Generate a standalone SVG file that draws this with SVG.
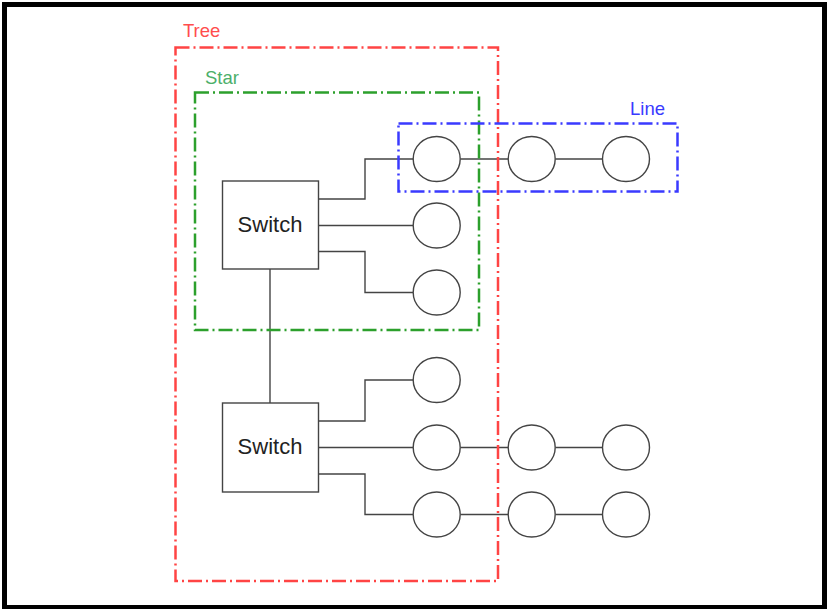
<svg xmlns="http://www.w3.org/2000/svg" width="829" height="609" viewBox="0 0 829 609">
<style>
.frame{fill:none;stroke:#000;stroke-width:5}
.wire{fill:none;stroke:#444;stroke-width:1.4}
.node{fill:#fff;stroke:#444;stroke-width:1.4}
.sw{fill:#fff;stroke:#444;stroke-width:1.4}
.swt{font-family:"Liberation Sans",Arial,sans-serif;font-size:22px;fill:#222;text-anchor:middle}
.grp{fill:none;stroke-width:2.5;stroke-dasharray:14 4 2 4}
.lbl{font-family:"Liberation Sans",Arial,sans-serif;font-size:18.5px}
</style>
<rect x="0" y="0" width="829" height="609" fill="#fff"/>
<rect class="frame" x="4.5" y="4.5" width="820" height="603"/>
<g id="connectors">
<polyline class="wire" points="318,199 365,199 365,159 413,159"/>
<line class="wire" x1="318" y1="225.5" x2="413" y2="225.5"/>
<polyline class="wire" points="318,251.5 365,251.5 365,292.5 413,292.5"/>
<line class="wire" x1="460.5" y1="159" x2="508" y2="159"/>
<line class="wire" x1="555.5" y1="159" x2="602" y2="159"/>
<line class="wire" x1="270" y1="269" x2="270" y2="403"/>
<polyline class="wire" points="318,421 365,421 365,380 413,380"/>
<line class="wire" x1="318" y1="447.5" x2="413" y2="447.5"/>
<polyline class="wire" points="318,474 365,474 365,514.5 413,514.5"/>
<line class="wire" x1="460.5" y1="447.5" x2="508" y2="447.5"/>
<line class="wire" x1="555.5" y1="447.5" x2="602" y2="447.5"/>
<line class="wire" x1="460.5" y1="514.5" x2="508" y2="514.5"/>
<line class="wire" x1="555.5" y1="514.5" x2="602" y2="514.5"/>
</g>
<g id="switch1"><rect class="sw" x="222.5" y="181" width="96" height="88"/><text class="swt" x="270" y="232">Switch</text></g>
<g id="switch2"><rect class="sw" x="222.5" y="403" width="96" height="89"/><text class="swt" x="270" y="454">Switch</text></g>
<g id="n1"><ellipse class="node" cx="436.7" cy="159" rx="23.5" ry="22.5"/></g>
<g id="n2"><ellipse class="node" cx="531.7" cy="159" rx="23.5" ry="22.5"/></g>
<g id="n3"><ellipse class="node" cx="626" cy="159" rx="23.5" ry="22.5"/></g>
<g id="n4"><ellipse class="node" cx="436.7" cy="225.5" rx="23.5" ry="22.5"/></g>
<g id="n5"><ellipse class="node" cx="436.7" cy="292.5" rx="23.5" ry="22.5"/></g>
<g id="n6"><ellipse class="node" cx="436.7" cy="380" rx="23.5" ry="22.5"/></g>
<g id="n7"><ellipse class="node" cx="436.7" cy="447.5" rx="23.5" ry="22.5"/></g>
<g id="n8"><ellipse class="node" cx="531.7" cy="447.5" rx="23.5" ry="22.5"/></g>
<g id="n9"><ellipse class="node" cx="626" cy="447.5" rx="23.5" ry="22.5"/></g>
<g id="n10"><ellipse class="node" cx="436.7" cy="514.5" rx="23.5" ry="22.5"/></g>
<g id="n11"><ellipse class="node" cx="531.7" cy="514.5" rx="23.5" ry="22.5"/></g>
<g id="n12"><ellipse class="node" cx="626" cy="514.5" rx="23.5" ry="22.5"/></g>
<g id="tree"><rect class="grp" x="175.5" y="47.5" width="322.5" height="533.5" stroke="#ff4444"/><text class="lbl" x="183" y="37" fill="#ff4d4d">Tree</text></g>
<g id="star"><rect class="grp" x="195" y="92.5" width="284" height="237.5" stroke="#2ca02c"/><text class="lbl" x="205" y="84" fill="#4caf6a">Star</text></g>
<g id="line"><rect class="grp" x="398.5" y="123.5" width="279" height="68" stroke="#3a3aff"/><text class="lbl" x="630" y="115" fill="#3a3aff">Line</text></g>
</svg>
